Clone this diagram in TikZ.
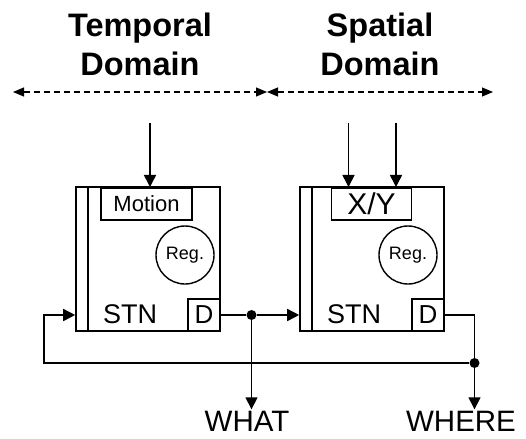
\documentclass[tikz,border=0pt]{standalone}
\usepackage{fontspec}
\setmainfont{Liberation Sans}
\usetikzlibrary{arrows.meta, calc}

\tikzset{
  blk/.style={draw, line width=1.6pt, inner sep=0pt, minimum width=144pt, minimum height=144pt},
  sub/.style={draw, line width=1.6pt, inner sep=0pt, minimum height=32pt, anchor=north},
  regc/.style={draw, circle, line width=1.4pt, inner sep=0pt, minimum size=58pt, font=\fontsize{18}{20}\selectfont},
  dport/.style={draw, line width=1.6pt, inner sep=0pt, minimum size=32pt, anchor=south east, font=\fontsize{26}{28}\selectfont},
  lbl/.style={inner sep=0pt, font=\fontsize{27}{30}\selectfont},
  outlbl/.style={inner sep=0pt, text depth=0pt, anchor=south, font=\fontsize{29.5}{32}\selectfont},
  sig/.style={line width=1.6pt, -{Triangle[length=12pt,width=12pt]}},
  dom/.style={line width=1.1pt, dash pattern=on 6pt off 4pt, {Triangle[length=11pt,width=9pt]}-{Triangle[length=11pt,width=9pt]}},
  jdot/.style={circle, fill, inner sep=0pt, minimum size=10pt},
  title/.style={align=center, font=\fontsize{32.5}{39}\selectfont\bfseries}
}

\begin{document}
\begin{tikzpicture}[x=1pt, y=-1pt]
    \useasboundingbox (0,0) rectangle (526,438);

    % domains
    \node[title] (ttemp) at (140,44) {Temporal\\Domain};
    \node[title] (tspat) at (380,44) {Spatial\\Domain};
    \coordinate (dl) at (13,92);
    \coordinate (dm) at (267,92);
    \coordinate (dr) at (493,92);
    \draw[dom] (dl) -- (dm);
    \draw[dom] (dm) -- (dr);

    % first STN (temporal)
    \node[blk] (stn1) at (148,259) {};
    \draw[line width=1.6pt] ($(stn1.north west)+(13,0)$) -- ($(stn1.south west)+(13,0)$);
    \node[sub, minimum width=91pt, font=\fontsize{22}{24}\selectfont] (motion) at (146.5,187) {Motion};
    \node[regc] (reg1) at (185,255) {Reg.};
    \node[dport] (d1) at (stn1.south east) {D};
    \node[lbl] (stn1lbl) at (130,314) {STN};

    % second STN (spatial)
    \node[blk] (stn2) at (372,259) {};
    \draw[line width=1.6pt] ($(stn2.north west)+(13,0)$) -- ($(stn2.south west)+(13,0)$);
    \node[sub, minimum width=80pt, font=\fontsize{30}{32}\selectfont] (xy) at (371.5,187) {X/Y};
    \node[regc] (reg2) at (408,255) {Reg.};
    \node[dport] (d2) at (stn2.south east) {D};
    \node[lbl] (stn2lbl) at (354,314) {STN};

    % inputs
    \coordinate (inm) at (150,123);
    \coordinate (inx) at (348.5,123);
    \coordinate (iny) at (396,123);
    \draw[sig] (inm) -- (inm |- motion.north);
    \draw[sig] (inx) -- (inx |- xy.north);
    \draw[sig] (iny) -- (iny |- xy.north);

    % outputs
    \node[outlbl] (what) at (247,432) {WHAT};
    \node[outlbl] (where) at (461,432) {WHERE};
    \node[jdot] (j1) at (251.5,315) {};
    \node[jdot] (j2) at (474.5,363) {};
    \coordinate (fb) at (44,363);

    \draw[line width=1.6pt] (d1.east) -- (j1);
    \draw[sig, shorten >=2pt] (j1) -- (j1 |- what.north);
    \draw[sig] (j1) -- (j1 -| stn2.west);
    \draw[line width=1.6pt] (d2.east) -| (j2);
    \draw[sig, shorten >=2pt] (j2) -- (j2 |- where.north);
    \draw[sig] (j2) -- (fb) |- (d1.east -| stn1.west);
\end{tikzpicture}
\end{document}
